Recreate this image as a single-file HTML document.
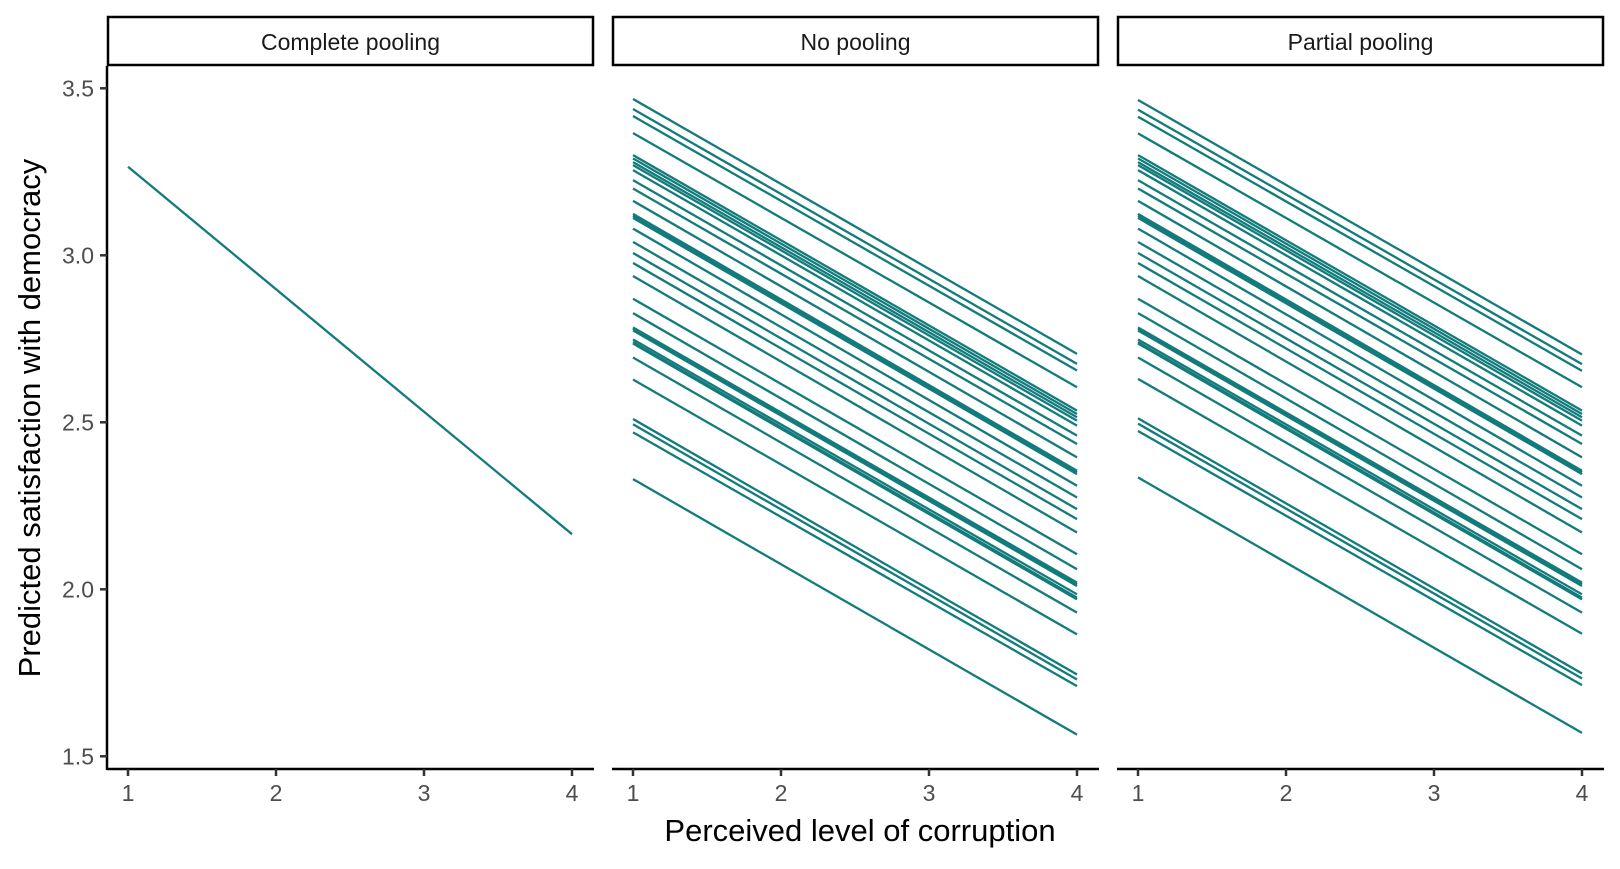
<!DOCTYPE html>
<html><head><meta charset="utf-8"><style>
body{margin:0;background:#fff;}
svg text{font-family:"Liberation Sans",Arial,sans-serif;}
</style></head><body>
<svg id="chart" width="1620" height="864" xmlns="http://www.w3.org/2000/svg"></svg>
<script>
const panelTitles = ["Complete pooling","No pooling","Partial pooling"];
const xTicks = [1,2,3,4];
const yTicks = [1.5,2.0,2.5,3.0,3.5];
const yTickLabels = ["1.5","2.0","2.5","3.0","3.5"];
const completeStart = [3.265];
const completeEnd = [2.165];
const noPoolStart = [3.468,3.438,3.417,3.366,3.30,3.29,3.279,3.27,3.255,3.225,3.20,3.163,3.124,3.118,3.112,3.08,3.04,3.007,2.977,2.938,2.87,2.827,2.784,2.78,2.775,2.748,2.74,2.736,2.694,2.628,2.51,2.494,2.47,2.33];
const noPoolEnd = [2.705,2.675,2.655,2.605,2.535,2.525,2.515,2.505,2.49,2.46,2.435,2.395,2.355,2.35,2.345,2.31,2.275,2.24,2.21,2.17,2.105,2.06,2.02,2.015,2.01,1.985,1.975,1.97,1.93,1.865,1.745,1.73,1.71,1.565];
const partialStart = [3.465,3.436,3.415,3.365,3.30,3.29,3.279,3.27,3.255,3.225,3.20,3.163,3.124,3.118,3.112,3.08,3.04,3.007,2.977,2.938,2.87,2.827,2.784,2.78,2.775,2.748,2.74,2.736,2.694,2.63,2.512,2.496,2.474,2.335];
const partialEnd = [2.703,2.674,2.654,2.605,2.535,2.525,2.515,2.505,2.49,2.46,2.435,2.395,2.355,2.35,2.345,2.31,2.275,2.24,2.21,2.17,2.105,2.06,2.02,2.015,2.01,1.985,1.975,1.97,1.93,1.867,1.748,1.733,1.713,1.57];
const starts=[completeStart,noPoolStart,partialStart], ends=[completeEnd,noPoolEnd,partialEnd];
const NS="http://www.w3.org/2000/svg", svgEl=document.getElementById('chart');
function mk(t,a,p){const e=document.createElementNS(NS,t);for(const k in a)e.setAttribute(k,a[k]);(p||svgEl).appendChild(e);return e;}
const plotTop=66,plotBottom=769,pw=487,offs=[107,612,1117];
const yS=v=>88.3+(3.5-v)*334;
const xS=(p,v)=>offs[p]+21+(v-1)*148;
const col="#127b7b";
for(let p=0;p<3;p++){
  const g=mk('g',{});
  
  
  const strip=mk('rect',{x:offs[p]+1,y:17,width:pw-2,height:48,fill:'#fff',stroke:'#000','stroke-width':2.5},g);
  
  
  const st=mk('text',{x:offs[p]+pw/2,y:50,'text-anchor':'middle','font-size':23,fill:'#1a1a1a'},g);
  st.textContent=panelTitles[p];
  
  
  for(let i=0;i<starts[p].length;i++){
    const l=mk('line',{x1:xS(p,1),y1:yS(starts[p][i]),x2:xS(p,4),y2:yS(ends[p][i]),stroke:col,'stroke-width':2.3},g);
    
    
  }
  const ax=mk('line',{x1:offs[p],y1:plotBottom,x2:offs[p]+pw,y2:plotBottom,stroke:'#000','stroke-width':2.5},g);
  
  
  xTicks.forEach(t=>{
    mk('line',{x1:xS(p,t),y1:plotBottom,x2:xS(p,t),y2:plotBottom+7,stroke:'#333','stroke-width':2.5},g);
    const tx=mk('text',{x:xS(p,t),y:plotBottom+32,'text-anchor':'middle','font-size':23,fill:'#4d4d4d'},g);
    tx.textContent=t;
    
    
  });
}
const yax=mk('line',{x1:107,y1:plotTop,x2:107,y2:plotBottom+1,stroke:'#000','stroke-width':2.5});


yTicks.forEach((t,i)=>{
  mk('line',{x1:100,y1:yS(t),x2:107,y2:yS(t),stroke:'#333','stroke-width':2.5});
  const tx=mk('text',{x:94,y:yS(t)+8,'text-anchor':'end','font-size':23,fill:'#4d4d4d'});
  tx.textContent=yTickLabels[i];
  
  
});
const xt=mk('text',{x:860,y:841,'text-anchor':'middle','font-size':31,fill:'#000'});
xt.textContent="Perceived level of corruption";


const yt=mk('text',{x:0,y:0,'text-anchor':'middle','font-size':31,fill:'#000',transform:'translate(40,418) rotate(-90)'});
yt.textContent="Predicted satisfaction with democracy";


</script>
</body></html>
